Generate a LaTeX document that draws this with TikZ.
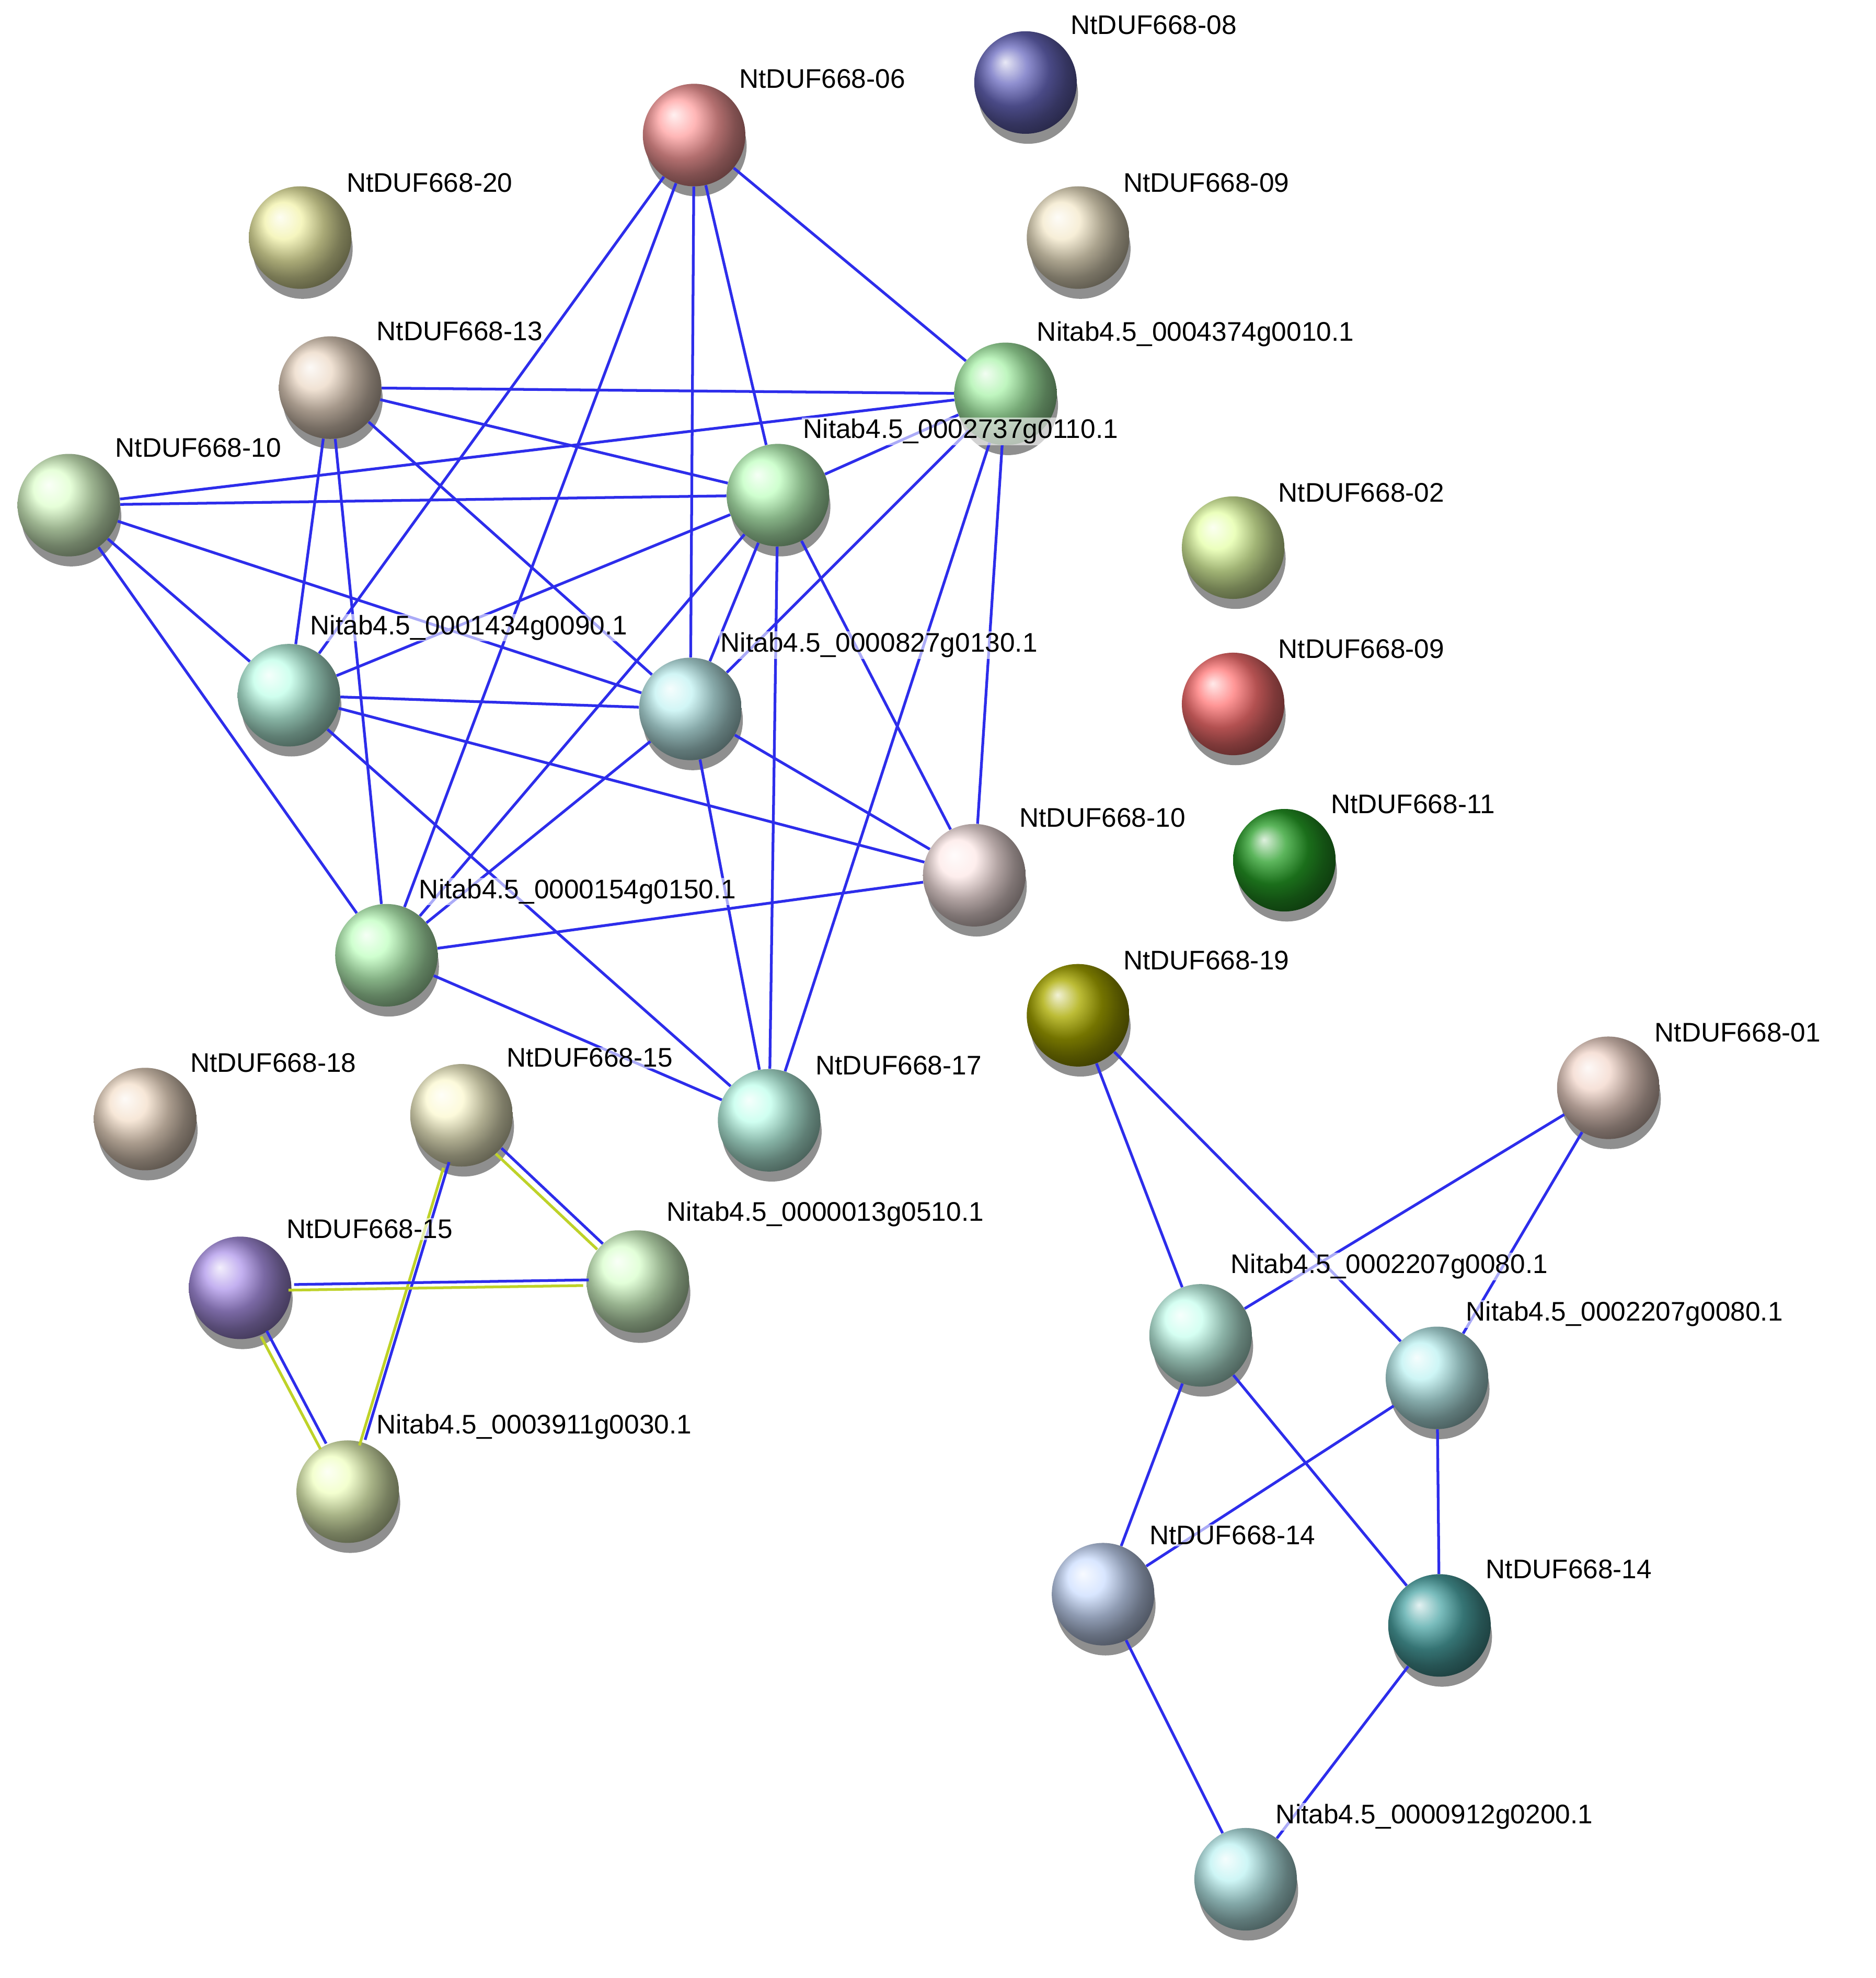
\documentclass[tikz,border=0pt]{standalone}
\usepackage{fontspec}
\setmainfont{Liberation Sans}
\begin{document}
\begin{tikzpicture}[x=1pt,y=-1pt,
  e/.style={draw={rgb,255:red,45;green,45;blue,235},line width=2.2pt},
  ey/.style={draw={rgb,255:red,190;green,210;blue,40},line width=2.2pt},
  lab/.style={anchor=west,font=\fontsize{21.5}{25}\selectfont,inner sep=1pt,fill=white,fill opacity=0.6,text opacity=1}]
\useasboundingbox (0,0) rectangle (1500,1582);
\def\ball#1#2#3#4{%
  \fill[black!55,opacity=0.8] (#2+2,#3+9) circle (40);
  \node[circle,minimum size=82pt,inner sep=0pt,shading=ball,ball color=#4] (#1) at (#2,#3) {};}
\def\lbl#1#2#3{\node[lab] at (#1,#2) {#3};}
\definecolor{purp}{RGB}{175,150,235}
% nodes
\ball{n06}{555}{108}{red!30!pink!80!white}
\ball{n08}{820}{66}{blue!45!white!75!black}
\ball{n20}{240}{190}{yellow!30!white!95!black}
\ball{n09a}{862}{190}{yellow!30!brown!25!white}
\ball{n4374}{804}{315}{green!30!white!95!black}
\ball{n13}{264}{310}{brown!30!white}
\ball{n10a}{55}{404}{yellow!35!green!20!white}
\ball{n2737}{622}{396}{green!25!white}
\ball{n02}{986}{438}{green!30!yellow!35!white}
\ball{n1434}{231}{556}{green!35!cyan!25!white}
\ball{n827}{552}{567}{cyan!20!white!95!black}
\ball{n09b}{986}{563}{red!55!white}
\ball{n10b}{779}{700}{brown!25!red!10!white}
\ball{n11}{1027}{688}{green!55!black!85!white}
\ball{n154}{309}{764}{green!25!white}
\ball{n19}{862}{812}{olive!70!white}
\ball{n01}{1286}{870}{red!25!brown!25!white}
\ball{n18}{116}{895}{orange!30!brown!25!white}
\ball{n15a}{369}{892}{brown!25!yellow!20!white}
\ball{n17}{615}{896}{green!30!cyan!25!white}
\ball{n0013}{510}{1025}{yellow!25!green!20!white}
\ball{n15b}{192}{1030}{purp}
\ball{n2207a}{960}{1068}{green!30!cyan!22!white}
\ball{n2207b}{1149}{1102}{cyan!22!white!95!black}
\ball{n3911}{278}{1193}{green!25!yellow!25!white}
\ball{n14a}{882}{1275}{cyan!35!blue!20!white}
\ball{n14b}{1151}{1300}{teal!70!white}
\ball{n912}{996}{1503}{cyan!22!white!95!black}
% edges
\foreach \a/\b in {n06/n1434,n06/n154,n06/n827,n06/n2737,n06/n4374,
 n13/n4374,n13/n2737,n13/n827,n13/n1434,n13/n154,
 n10a/n4374,n10a/n2737,n10a/n827,n10a/n1434,n10a/n154,
 n2737/n4374,n2737/n1434,n2737/n154,n2737/n827,n2737/n17,n2737/n10b,
 n4374/n827,n4374/n10b,n4374/n17,
 n1434/n827,n1434/n10b,n1434/n17,
 n827/n154,n827/n10b,n827/n17,n154/n10b,n154/n17,
 n19/n2207a,n19/n2207b,n01/n2207a,n01/n2207b,n2207a/n14a,n2207a/n14b,
 n2207b/n14a,n2207b/n14b,n14a/n912,n14b/n912}
 {\path[e] (\a) -- (\b);}
\foreach \a/\b in {n15a/n0013,n15a/n3911,n15b/n0013,n15b/n3911}
 {\path[ey,transform canvas={shift={(-2.5pt,-2.5pt)}}] (\a) -- (\b);
  \path[e,transform canvas={shift={(2pt,2pt)}}] (\a) -- (\b);}
% labels
\lbl{590}{63}{NtDUF668-06}
\lbl{855}{20}{NtDUF668-08}
\lbl{276}{146}{NtDUF668-20}
\lbl{897}{146}{NtDUF668-09}
\lbl{828}{267}{Nitab4.5\_0004374g0010.1}
\lbl{300}{265}{NtDUF668-13}
\lbl{91}{358}{NtDUF668-10}
\lbl{641}{345}{Nitab4.5\_0002737g0110.1}
\lbl{1021}{394}{NtDUF668-02}
\lbl{247}{502}{Nitab4.5\_0001434g0090.1}
\lbl{575}{516}{Nitab4.5\_0000827g0130.1}
\lbl{1021}{519}{NtDUF668-09}
\lbl{814}{654}{NtDUF668-10}
\lbl{1063}{643}{NtDUF668-11}
\lbl{334}{713}{Nitab4.5\_0000154g0150.1}
\lbl{897}{768}{NtDUF668-19}
\lbl{1322}{826}{NtDUF668-01}
\lbl{151}{850}{NtDUF668-18}
\lbl{404}{846}{NtDUF668-15}
\lbl{651}{852}{NtDUF668-17}
\lbl{532}{971}{Nitab4.5\_0000013g0510.1}
\lbl{228}{983}{NtDUF668-15}
\lbl{983}{1013}{Nitab4.5\_0002207g0080.1}
\lbl{1171}{1051}{Nitab4.5\_0002207g0080.1}
\lbl{300}{1141}{Nitab4.5\_0003911g0030.1}
\lbl{918}{1228}{NtDUF668-14}
\lbl{1187}{1255}{NtDUF668-14}
\lbl{1019}{1453}{Nitab4.5\_0000912g0200.1}
\end{tikzpicture}
\end{document}
